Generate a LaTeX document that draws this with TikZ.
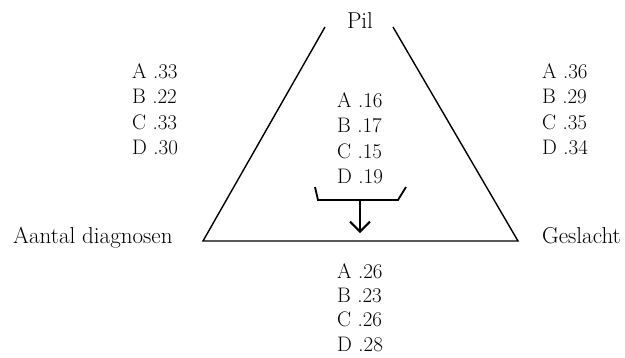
\documentclass[tikz,border=0pt]{standalone}
\usepackage{fontspec}
\usetikzlibrary{arrows.meta,positioning}
\begin{document}
\begin{tikzpicture}[x=1pt,y=-1pt,>={Straight Barb[length=10pt,width=20pt]}]
\tikzstyle{lbl}=[inner sep=0pt,font=\fontsize{23}{26}\selectfont]
\tikzstyle{col}=[inner sep=0pt,font=\fontsize{21}{25.5}\selectfont,align=left,anchor=north west]
\tikzstyle{side}=[line width=1.4pt]
\useasboundingbox (0,0) rectangle (625,357);
% corner labels
\node[lbl,anchor=base] (pil) at (360,28) {Pil};
\node[lbl,anchor=base west] (aantal) at (13,243) {Aantal diagnosen};
\node[lbl,anchor=base west] (geslacht) at (542,243) {Geslacht};
% proportions
\node[col] (links) at (132,63) {A .33\\B .22\\C .33\\D .30};
\node[col] (rechts) at (542,63) {A .36\\B .29\\C .35\\D .34};
\node[col] (midden) at (337,92) {A .16\\B .17\\C .15\\D .19};
\node[col,font=\fontsize{21}{24.4}\selectfont] (onder) at (337,263) {A .26\\B .23\\C .26\\D .28};
% triangle
\coordinate (tl) at (325,27);
\coordinate (tr) at (393,27);
\coordinate (bl) at (203,241);
\coordinate (br) at (518,241);
\draw[side] (tl) -- (bl) -- (br) -- (tr);
% bracket and arrow
\coordinate (kl) at (315,187);
\coordinate (kr) at (406,187);
\coordinate (km) at (360,200);
\coordinate (pijl) at (360,233);
\draw[line width=1.8pt] (kl) -- (318,200) -- (398,200) -- (kr);
\draw[->,line width=2pt] (km) -- (pijl);
\end{tikzpicture}
\end{document}
